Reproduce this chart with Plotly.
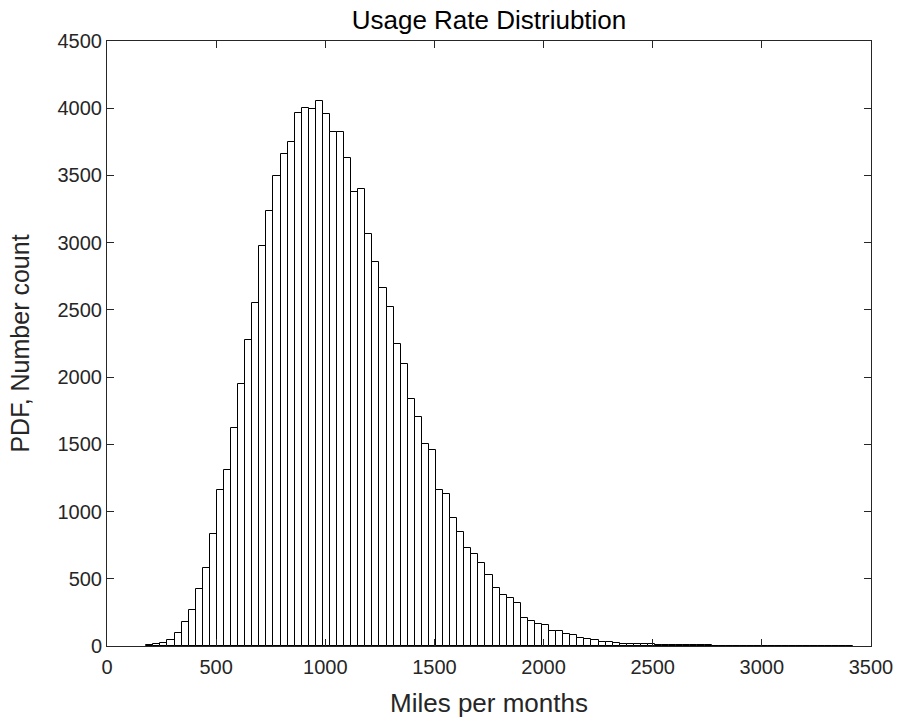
import numpy as np
import plotly.graph_objects as go

# Histogram of monthly mileage: 100 equal-width bins
BIN_START = 180.0      # left edge of the first bin (miles per month)
BIN_WIDTH = 32.37      # width of each bin (miles per month)

counts = [
    6, 15, 21, 44, 94, 180, 271, 421, 577, 831,
    1158, 1311, 1623, 1947, 2274, 2548, 2972, 3237, 3496, 3661,
    3747, 3965, 4003, 3994, 4056, 3956, 3820, 3820, 3632, 3376,
    3402, 3066, 2857, 2663, 2525, 2247, 2094, 1836, 1706, 1505,
    1461, 1160, 1128, 949, 849, 730, 683, 618, 527, 435,
    380, 358, 318, 209, 184, 166, 156, 114, 109, 87,
    82, 62, 54, 47, 30, 30, 25, 17, 15, 15,
    17, 12, 10, 7, 10, 8, 9, 6, 5, 4,
    3, 3, 2, 3, 2, 1, 2, 1, 1, 1,
    0, 1, 0, 1, 2, 1, 0, 1, 1, 1,
]

x_ticks = [0, 500, 1000, 1500, 2000, 2500, 3000, 3500]
y_ticks = [0, 500, 1000, 1500, 2000, 2500, 3000, 3500, 4000, 4500]

title_text = "Usage Rate Distriubtion"
x_label = "Miles per months"
y_label = "PDF, Number count"

edges = BIN_START + BIN_WIDTH * np.arange(len(counts) + 1)
centers = (edges[:-1] + edges[1:]) / 2

AXIS_COLOR = "#262626"
FONT = "Liberation Sans, Arial, Helvetica, sans-serif"

fig = go.Figure(
    go.Bar(
        x=centers,
        y=counts,
        width=BIN_WIDTH,
        marker=dict(color="white", line=dict(color="black", width=1)),
        hoverinfo="x+y",
    )
)

axis_common = dict(
    showgrid=False,
    zeroline=False,
    showline=True,
    linecolor=AXIS_COLOR,
    linewidth=1,
    mirror="allticks",
    ticks="inside",
    ticklen=7,
    tickwidth=1,
    tickcolor=AXIS_COLOR,
    tickfont=dict(family=FONT, size=20, color=AXIS_COLOR),
)

fig.update_layout(
    width=905,
    height=727,
    margin=dict(l=107, r=32, t=41, b=81),
    paper_bgcolor="white",
    plot_bgcolor="white",
    showlegend=False,
    bargap=0,
    title=dict(
        text=title_text,
        x=0.5,
        xref="paper",
        xanchor="center",
        y=1,
        yref="paper",
        yanchor="bottom",
        pad=dict(b=12),
        font=dict(family=FONT, size=26, color="black"),
    ),
    xaxis=dict(
        range=[0, 3500],
        tickvals=x_ticks,
        ticklabelstandoff=3,
        title=dict(text=x_label, font=dict(family=FONT, size=26, color=AXIS_COLOR), standoff=16),
        **axis_common,
    ),
    yaxis=dict(
        range=[0, 4500],
        tickvals=y_ticks,
        title=dict(text=y_label, font=dict(family=FONT, size=25, color=AXIS_COLOR), standoff=20),
        **axis_common,
    ),
)

fig.write_html("out.html")
